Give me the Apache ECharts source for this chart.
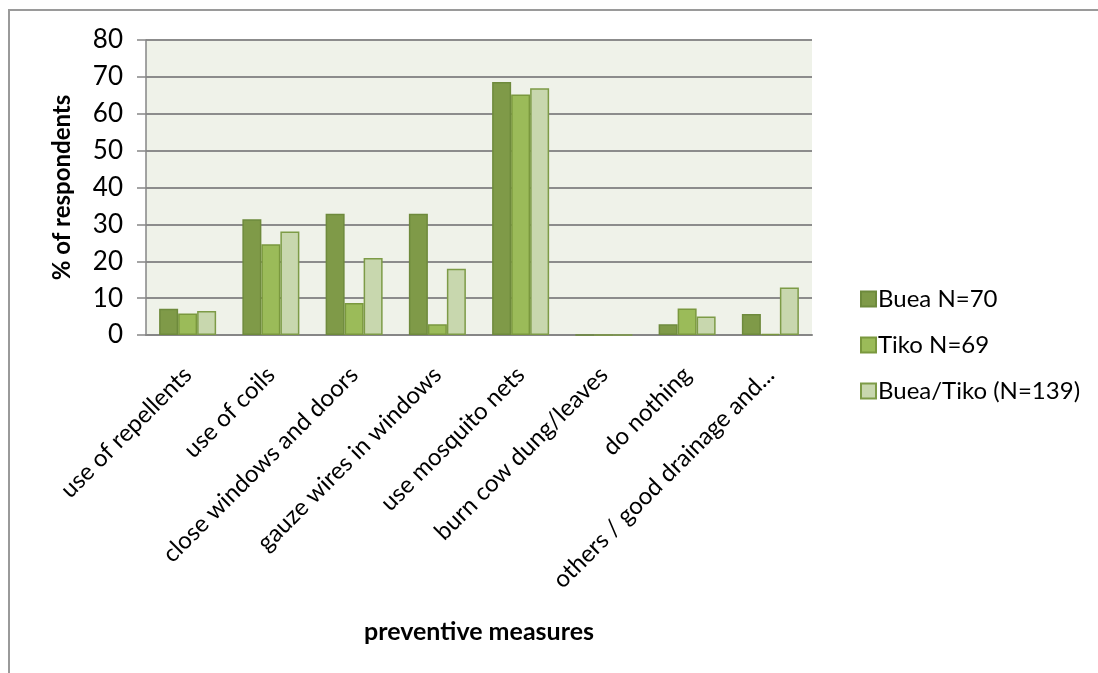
<!DOCTYPE html>
<html>
<head>
<meta charset="utf-8">
<script src="https://cdn.jsdelivr.net/npm/echarts@6/dist/echarts.min.js"></script>
<style>html,body{margin:0;padding:0;background:#fff;}#c{width:1098px;height:673px;}</style>
</head>
<body>
<div id="c"></div>
<script>
const categories = ["use of repellents","use of coils","close windows and doors","gauze wires in windows","use mosquito nets","burn cow dung/leaves","do nothing","others / good drainage and..."];
const seriesNames = ["Buea N=70","Tiko N=69","Buea/Tiko (N=139)"];
const buea = [7.1, 31.4, 32.9, 32.9, 68.6, 0, 2.9, 5.7];
const tiko = [5.8, 24.6, 8.7, 2.9, 65.2, 0, 7.2, 0.3];
const bueaTiko = [6.5, 28.1, 20.9, 18.0, 66.9, 0, 5.0, 12.9];
const yTicks = [0,10,20,30,40,50,60,70,80];

const fills = ['#7F9A48','#9BBB59','#C8D7AE'];
const borders = ['#6E8A3C','#7A983E','#7D9B47'];
const font = 'Lato, "Open Sans", sans-serif';
const dataSets = [buea, tiko, bueaTiko];

const chart = echarts.init(document.getElementById('c'), null, {renderer:'canvas'});
chart.setOption({
  animation:false,
  textStyle:{fontFamily:font},
  graphic:[{type:'rect', shape:{x:9,y:10,width:1200,height:800}, style:{fill:null, stroke:'#9a9a9a', lineWidth:2}, z:-10}],
  grid:{left:146, top:40, width:666, height:295, backgroundColor:'#EFF2E9', show:true, borderWidth:0},
  legend:{orient:'vertical', left:855, top:282, itemWidth:15, itemHeight:15, itemGap:22, icon:'rect',
    textStyle:{fontSize:24, color:'#000', fontFamily:font, padding:[0,0,0,-3]},
    data:seriesNames},
  xAxis:{type:'category', data:categories,
    name:'preventive measures', nameLocation:'middle', nameGap:284,
    nameTextStyle:{fontSize:25, fontWeight:'bold', color:'#000', fontFamily:font},
    axisLine:{lineStyle:{color:'#868686', width:2}},
    axisTick:{show:false},
    axisLabel:{rotate:45, fontSize:24, color:'#000', interval:0, margin:36, fontFamily:font}},
  yAxis:{type:'value', min:0, max:80, interval:10,
    name:'% of respondents', nameLocation:'middle', nameGap:72, nameRotate:90,
    nameTextStyle:{fontSize:24, fontWeight:'bold', color:'#000', fontFamily:font},
    axisLine:{show:true, lineStyle:{color:'#868686', width:1.5}},
    axisTick:{show:true, inside:false, length:9, lineStyle:{color:'#868686', width:1.5}},
    axisLabel:{fontSize:26, color:'#000', margin:23, fontFamily:font,
      formatter:(v)=> yTicks.includes(v) ? String(v) : ''},
    splitLine:{lineStyle:{color:'#8C8C8C', width:2}}},
  series: seriesNames.map((n,i)=>({
    name:n, type:'bar', data:dataSets[i], barWidth:19, barGap:'0%',
    itemStyle:{color:fills[i], borderColor:borders[i], borderWidth:1.5}
  }))
});
</script>
</body>
</html>
